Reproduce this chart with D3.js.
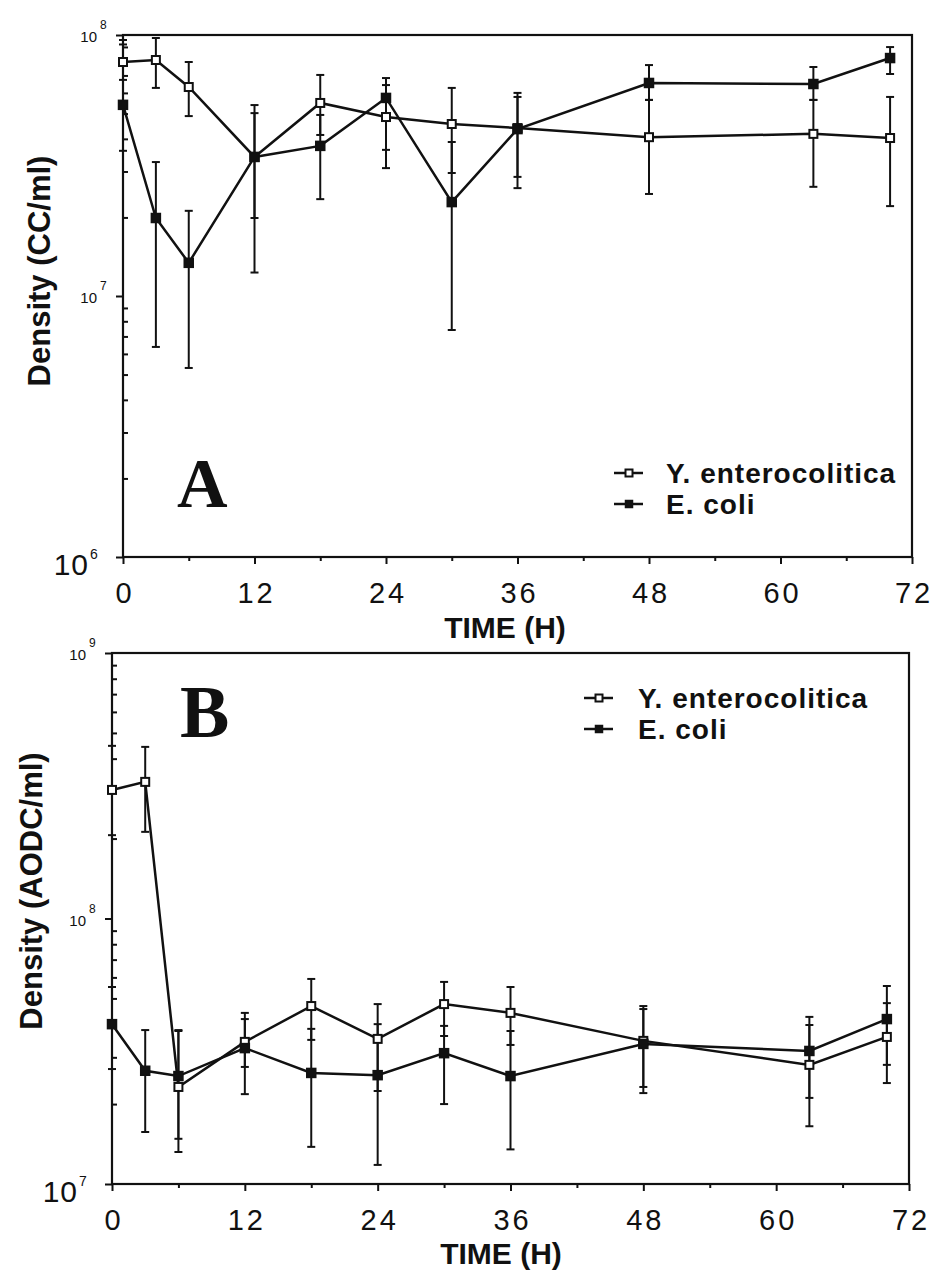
<!DOCTYPE html>
<html>
<head>
<meta charset="utf-8">
<script src="https://cdn.jsdelivr.net/npm/d3@7"></script>
<style>
  body { margin: 0; background: #fff; }
  svg { display: block; }
</style>
</head>
<body>
<div id="chart"></div>
<script>
// Sampling times (hours), shared by both panels
const hours = [0, 3, 6, 12, 18, 24, 30, 36, 48, 63, 70];
const xTicks = [0, 12, 24, 36, 48, 60, 72];
const xMinorTicks = [6, 18, 30, 42, 54, 66];
const seriesNames = ["Y. enterocolitica", "E. coli"];

// Panel A: culturable counts (CC/ml), mean with error bar ends
const ccYent = [7.88e7, 8.02e7, 6.32e7, 3.41e7, 5.49e7, 4.85e7, 4.56e7, 4.40e7, 4.06e7, 4.18e7, 4.03e7];
const ccYentHi = [9.57e7, 9.74e7, 7.88e7, 5.02e7, 7.03e7, 6.43e7, 6.27e7, 6.0e7, 5.64e7, 5.64e7, 5.79e7];
const ccYentLo = [6.73e7, 6.27e7, 4.89e7, 1.99e7, 4.14e7, 3.63e7, 2.96e7, 2.86e7, 2.46e7, 2.62e7, 2.21e7];
const ccEcoli = [5.4e7, 1.99e7, 1.34e7, 3.41e7, 3.76e7, 5.74e7, 2.29e7, 4.36e7, 6.55e7, 6.49e7, 8.16e7];
const ccEcoliHi = [9.2e7, 3.26e7, 2.12e7, 5.39e7, 4.94e7, 6.84e7, 3.89e7, 5.79e7, 7.67e7, 7.54e7, 8.99e7];
const ccEcoliLo = [3.6e7, 6.38e6, 5.3e6, 1.23e7, 2.35e7, 3.09e7, 7.41e6, 2.59e7, 5.64e7, 5.64e7, 7.09e7];

// Panel B: total counts (AODC/ml)
const aoYent = [3.05e8, 3.27e8, 2.32e7, 3.43e7, 4.68e7, 3.52e7, 4.76e7, 4.41e7, 3.46e7, 2.81e7, 3.58e7];
const aoYentHi = [4.47e8, 4.43e8, 3.8e7, 4.41e7, 5.92e7, 4.76e7, 5.77e7, 5.52e7, 4.68e7, 3.97e7, 4.8e7];
const aoYentLo = [2.06e8, 2.12e8, 1.32e7, 2.76e7, 3.49e7, 2.24e7, 3.61e7, 3.34e7, 2.2e7, 1.65e7, 2.4e7];
const aoEcoli = [4.0e7, 2.67e7, 2.55e7, 3.25e7, 2.62e7, 2.57e7, 3.11e7, 2.55e7, 3.37e7, 3.17e7, 4.18e7];
const aoEcoliHi = [5.52e7, 3.8e7, 3.77e7, 4.18e7, 3.84e7, 4.0e7, 3.94e7, 3.77e7, 4.56e7, 4.26e7, 5.57e7];
const aoEcoliLo = [2.71e7, 1.57e7, 1.48e7, 2.18e7, 1.38e7, 1.18e7, 2.0e7, 1.35e7, 2.32e7, 2.11e7, 2.81e7];

const ink = "#111";
const sans = "'Liberation Sans', Arial, Helvetica, sans-serif";

const svg = d3
  .select("#chart")
  .append("svg")
  .attr("width", 932)
  .attr("height", 1274);

const panels = [
  {
    letter: "A", letterX: 177, letterY: 507, letterSize: 70,
    yTitle: "Density (CC/ml)", yTitleX: 50, yTitleY: 271,
    yDomain: [1e6, 1e8],
    left: 123, right: 912, top: 35, bottom: 557,
    xTitleX: 505, xTitleY: 638,
    legendX: 614, legendY: 473, legendTextX: 666,
    series: [
      { values: ccYent, lo: ccYentLo, hi: ccYentHi, open: true },
      { values: ccEcoli, lo: ccEcoliLo, hi: ccEcoliHi, open: false },
    ],
  },
  {
    letter: "B", letterX: 180, letterY: 737, letterSize: 74,
    yTitle: "Density (AODC/ml)", yTitleX: 42, yTitleY: 891,
    yDomain: [1e7, 1e9],
    left: 112, right: 909, top: 653, bottom: 1184,
    xTitleX: 501, xTitleY: 1264,
    legendX: 584, legendY: 698, legendTextX: 638,
    series: [
      { values: aoYent, lo: aoYentLo, hi: aoYentHi, open: true },
      { values: aoEcoli, lo: aoEcoliLo, hi: aoEcoliHi, open: false },
    ],
  },
];

function drawMarker(sel, cx, cy, open, size) {
  sel
    .append("rect")
    .attr("x", cx - size / 2)
    .attr("y", cy - size / 2)
    .attr("width", size)
    .attr("height", size)
    .attr("fill", open ? "#fff" : ink)
    .attr("stroke", ink)
    .attr("stroke-width", open ? 2 : 1.5);
}

function drawPanel(p) {
  const x = d3.scaleLinear().domain([0, 72]).range([p.left, p.right]);
  const y = d3.scaleLog().domain(p.yDomain).range([p.bottom, p.top]);
  const g = svg.append("g");

  // x axis: minor then major ticks, pointing outward
  g.append("g")
    .attr("transform", `translate(0,${p.bottom})`)
    .call(d3.axisBottom(x).tickValues(xMinorTicks).tickSize(4).tickFormat(""))
    .call((a) => a.select(".domain").remove())
    .selectAll("line").attr("stroke", ink).attr("stroke-width", 2);

  const xa = g
    .append("g")
    .attr("transform", `translate(0,${p.bottom})`)
    .call(d3.axisBottom(x).tickValues(xTicks).tickSize(7).tickFormat(d3.format("d")));
  xa.select(".domain").remove();
  xa.selectAll("line").attr("stroke", ink).attr("stroke-width", 2);
  xa.selectAll("text")
    .attr("y", 46)
    .attr("dy", null)
    .attr("dx", 1.5)
    .attr("fill", ink)
    .style("font-family", sans)
    .style("font-size", "29px")
    .style("letter-spacing", "3px");

  // y axis (log): minor ticks inward, decades outward
  const logTicks = y.ticks();
  const majors = logTicks.filter((v) => Math.abs(Math.log10(v) - Math.round(Math.log10(v))) < 1e-9);
  const minors = logTicks.filter((v) => !majors.includes(v));

  g.append("g")
    .attr("transform", `translate(${p.left},0)`)
    .call(d3.axisLeft(y).tickValues(minors).tickSize(-5).tickFormat(""))
    .call((a) => a.select(".domain").remove())
    .selectAll("line").attr("stroke", ink).attr("stroke-width", 2);

  g.append("g")
    .attr("transform", `translate(${p.left},0)`)
    .call(d3.axisLeft(y).tickValues(majors).tickSize(7).tickFormat(""))
    .call((a) => a.select(".domain").remove())
    .selectAll("line").attr("stroke", ink).attr("stroke-width", 2);

  majors.forEach((v) => {
    const exp = Math.round(Math.log10(v));
    const ty = y(v);
    const big = v === p.yDomain[0];
    g.append("text")
      .attr("x", p.left - (big ? 34 : 26))
      .attr("y", ty + (big ? 18 : 7))
      .attr("text-anchor", "end")
      .attr("fill", ink)
      .style("font-family", sans)
      .style("font-size", big ? "30px" : "15px")
      .style("letter-spacing", big ? "1px" : "0px")
      .text("10");
    g.append("text")
      .attr("x", p.left - (big ? 33 : 23))
      .attr("y", ty + (big ? 2 : -6))
      .attr("fill", ink)
      .style("font-family", sans)
      .style("font-size", big ? "14px" : "12px")
      .text(exp);
  });

  // frame
  g.append("rect")
    .attr("x", p.left)
    .attr("y", p.top)
    .attr("width", p.right - p.left)
    .attr("height", p.bottom - p.top)
    .attr("fill", "none")
    .attr("stroke", ink)
    .attr("stroke-width", 2.2);

  // axis titles
  g.append("text")
    .attr("x", p.xTitleX)
    .attr("y", p.xTitleY)
    .attr("text-anchor", "middle")
    .attr("fill", ink)
    .style("font-family", sans)
    .style("font-weight", "bold")
    .style("font-size", "30px")
    .text("TIME (H)");

  g.append("text")
    .attr("transform", `translate(${p.yTitleX},${p.yTitleY}) rotate(-90)`)
    .attr("text-anchor", "middle")
    .attr("fill", ink)
    .style("font-family", sans)
    .style("font-weight", "bold")
    .style("font-size", "31px")
    .text(p.yTitle);

  // panel letter
  g.append("text")
    .attr("x", p.letterX)
    .attr("y", p.letterY)
    .attr("fill", ink)
    .style("font-family", "'Liberation Serif', 'Times New Roman', serif")
    .style("font-weight", "bold")
    .style("font-size", p.letterSize + "px")
    .text(p.letter);

  // series: lines, error bars, markers
  const line = d3
    .line()
    .x((d, i) => x(hours[i]))
    .y((d) => y(d));

  p.series.forEach((s) => {
    g.append("path")
      .datum(s.values)
      .attr("d", line)
      .attr("fill", "none")
      .attr("stroke", ink)
      .attr("stroke-width", 2.5);
  });

  p.series.forEach((s) => {
    const eb = g.append("g").attr("stroke", ink).attr("stroke-width", 2);
    hours.forEach((h, i) => {
      const cx = x(h);
      eb.append("line").attr("x1", cx).attr("x2", cx).attr("y1", y(s.lo[i])).attr("y2", y(s.hi[i]));
      [s.lo[i], s.hi[i]].forEach((v) => {
        eb.append("line").attr("x1", cx - 4).attr("x2", cx + 4).attr("y1", y(v)).attr("y2", y(v));
      });
    });
  });

  p.series.forEach((s) => {
    const mk = g.append("g");
    s.values.forEach((v, i) => drawMarker(mk, x(hours[i]), y(v), s.open, s.open ? 8 : 9));
  });

  // legend
  p.series.forEach((s, i) => {
    const ly = p.legendY + i * 31;
    g.append("line")
      .attr("x1", p.legendX)
      .attr("x2", p.legendX + 29)
      .attr("y1", ly)
      .attr("y2", ly)
      .attr("stroke", ink)
      .attr("stroke-width", 2.5);
    drawMarker(g, p.legendX + 15, ly, s.open, 7);
    g.append("text")
      .attr("x", p.legendTextX)
      .attr("y", ly + 10)
      .attr("fill", ink)
      .style("font-family", sans)
      .style("font-weight", "bold")
      .style("font-size", "28px")
      .style("letter-spacing", "1px")
      .text(seriesNames[i]);
  });
}

panels.forEach(drawPanel);
</script>
</body>
</html>
